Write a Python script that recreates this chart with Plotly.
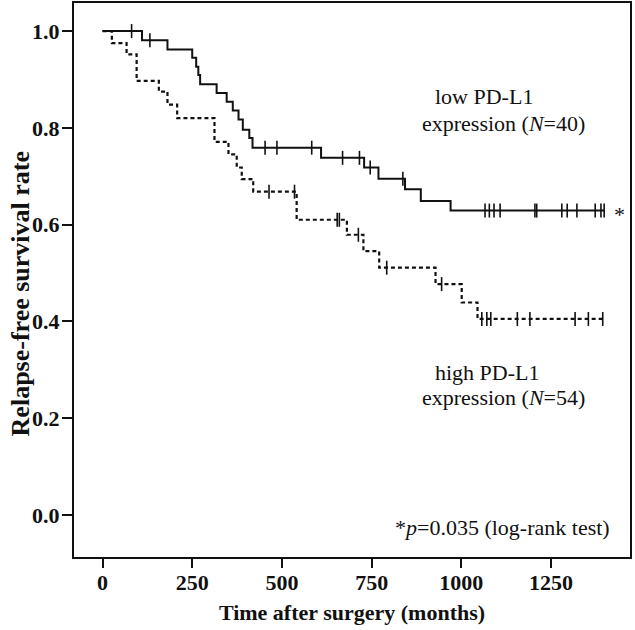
import plotly.graph_objects as go
import numpy as np

# ---- data ----
# low PD-L1 expression (N=40): step times and survival after each step
low_times = [0, 110, 181, 250, 261, 267, 272, 318, 346, 363, 379, 391, 409, 418, 609, 729, 769, 843, 887, 970]
low_surv = [1.0, 0.981, 0.962, 0.945, 0.926, 0.909, 0.890, 0.872, 0.854, 0.836, 0.817, 0.796, 0.779, 0.759,
            0.738, 0.718, 0.695, 0.673, 0.649, 0.629]
low_censor = [81, 132, 453, 486, 583, 669, 716, 746, 837, 1066, 1078, 1091, 1108, 1205, 1210, 1280, 1295,
              1322, 1373, 1389, 1398]
low_end = 1400

# high PD-L1 expression (N=54)
high_times = [0, 26, 67, 95, 157, 181, 208, 312, 351, 374, 388, 420, 541, 681, 727, 771, 928, 1001, 1045]
high_surv = [1.0, 0.975, 0.952, 0.897, 0.875, 0.848, 0.820, 0.771, 0.745, 0.718, 0.694, 0.668, 0.610,
             0.579, 0.545, 0.511, 0.477, 0.439, 0.405]
high_censor = [464, 535, 654, 660, 713, 792, 945, 1057, 1071, 1082, 1156, 1191, 1317, 1354, 1394]
high_end = 1400

x_ticks = [0, 250, 500, 750, 1000, 1250]
y_ticks = [0.0, 0.2, 0.4, 0.6, 0.8, 1.0]

FONT = "Liberation Serif"


def step_value(times, surv, t):
    idx = np.searchsorted(np.array(times), t, side="right") - 1
    return surv[idx]


fig = go.Figure()

# curves (step)
fig.add_trace(go.Scatter(x=low_times + [low_end], y=low_surv + [low_surv[-1]], mode="lines",
                         line=dict(color="#111", width=2, shape="hv"), showlegend=False))
fig.add_trace(go.Scatter(x=high_times + [high_end], y=high_surv + [high_surv[-1]], mode="lines",
                         line=dict(color="#111", width=2.2, shape="hv", dash="4px,3px"), showlegend=False))

# censor marks
fig.add_trace(go.Scatter(x=low_censor, y=[step_value(low_times, low_surv, t) for t in low_censor],
                         mode="markers",
                         marker=dict(symbol="line-ns", size=10, line=dict(color="#111", width=1.6)),
                         showlegend=False))
fig.add_trace(go.Scatter(x=high_censor, y=[step_value(high_times, high_surv, t) for t in high_censor],
                         mode="markers",
                         marker=dict(symbol="line-ns", size=10, line=dict(color="#111", width=1.6)),
                         showlegend=False))

ann_font = dict(family=FONT, size=22, color="#111")
annotations = [
    dict(x=0.646, y=0.864, xref="paper", yref="y", text="low PD-L1", showarrow=False, font=ann_font,
         xanchor="left"),
    dict(x=0.622, y=0.808, xref="paper", yref="y", text="expression (<i>N</i>=40)", showarrow=False,
         font=ann_font, xanchor="left"),
    dict(x=0.646, y=0.295, xref="paper", yref="y", text="high PD-L1", showarrow=False, font=ann_font,
         xanchor="left"),
    dict(x=0.622, y=0.242, xref="paper", yref="y", text="expression (<i>N</i>=54)", showarrow=False,
         font=ann_font, xanchor="left"),
    dict(x=0.968, y=-0.025, xref="paper", yref="y", text="*<i>p</i>=0.035 (log-rank test)", showarrow=False,
         font=ann_font, xanchor="right"),
    dict(x=1420, y=low_surv[-1], text="*", showarrow=False, font=ann_font, xanchor="left", yshift=-4),
    # y-axis title
    dict(x=-0.096, y=0.457, xref="paper", yref="y", text="<b>Relapse-free survival rate</b>",
         textangle=-90, showarrow=False, xanchor="center", yanchor="middle",
         font=dict(family=FONT, size=26, color="#111")),
]

fig.update_layout(
    width=635, height=630,
    margin=dict(l=74, r=5, t=3, b=73),
    paper_bgcolor="white", plot_bgcolor="white",
    font=dict(family=FONT, color="#111"),
    annotations=annotations,
    xaxis=dict(range=[-79.5, 1470], tickvals=x_ticks, ticktext=[str(v) for v in x_ticks], automargin=False,
               showgrid=False, zeroline=False, showline=True, linecolor="#111", linewidth=2, mirror=True,
               ticks="outside", ticklen=9, tickwidth=2, tickcolor="#111", ticklabelstandoff=-4,
               tickfont=dict(family=FONT, size=22, color="#111", weight="bold"),
               title=dict(text="<b>Time after surgery (months)</b>", standoff=10,
                          font=dict(family=FONT, size=22, color="#111"))),
    yaxis=dict(range=[-0.087, 1.058], tickvals=y_ticks, ticktext=[f"{v:.1f}" for v in y_ticks], automargin=False,
               showgrid=False, zeroline=False, showline=True, linecolor="#111", linewidth=2, mirror=True,
               ticks="outside", ticklen=10, tickwidth=2, tickcolor="#111", ticklabelstandoff=-2,
               tickfont=dict(family=FONT, size=22, color="#111", weight="bold")),
)

fig.write_html("out.html", config={"displayModeBar": False},
               post_script="document.body.style.margin='0';document.body.style.overflow='hidden';")
